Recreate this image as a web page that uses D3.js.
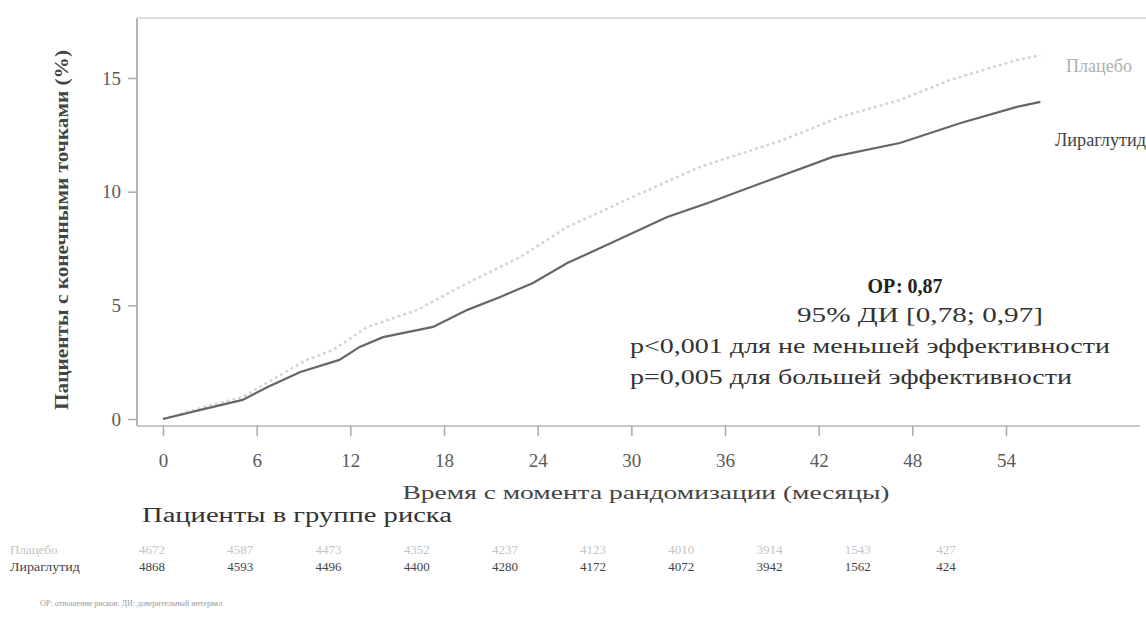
<!DOCTYPE html>
<html>
<head>
<meta charset="utf-8">
<script src="https://cdn.jsdelivr.net/npm/d3@7"></script>
<style>
  body { margin: 0; background: #fff; }
  svg { display: block; font-family: "Liberation Serif", "DejaVu Serif", serif; }
</style>
</head>
<body>
<svg id="chart" width="1146" height="636"></svg>
<script>
// data
let monthTicks = [0, 6, 12, 18, 24, 30, 36, 42, 48, 54];
let pctTicks = [0, 5, 10, 15];

let liraMonths = [0, 2.4, 5.1, 6.7, 8.8, 11.3, 12.6, 14.1, 17.3, 19.5, 21.6, 23.7, 25.9, 28.7, 32.3, 34.9, 38.7, 42.9, 47.2, 51.1, 54.7, 56.2];
let liraPct    = [0, 0.4, 0.84, 1.41, 2.07, 2.6, 3.17, 3.6, 4.05, 4.8, 5.37, 5.98, 6.86, 7.74, 8.89, 9.5, 10.47, 11.53, 12.14, 13.02, 13.73, 13.95];

let placMonths = [0, 2.4, 5.1, 9.2, 10.9, 13.1, 16.3, 19.5, 22.9, 25.9, 30.1, 34.4, 39.7, 43.4, 47.2, 50.4, 54.7, 56.2];
let placPct    = [0, 0.48, 0.97, 2.6, 3.04, 4.05, 4.8, 5.98, 7.13, 8.45, 9.77, 11.09, 12.27, 13.29, 14.03, 14.91, 15.79, 16.0];

let riskPlacebo = ["4672", "4587", "4473", "4352", "4237", "4123", "4010", "3914", "1543", "427"];
let riskLira    = ["4868", "4593", "4496", "4400", "4280", "4172", "4072", "3942", "1562", "424"];

let svg = d3.select("#chart");

let x = d3.scaleLinear().domain([0, 54]).range([163, 1006]);
let y = d3.scaleLinear().domain([0, 15]).range([419, 78]);
let xRisk = d3.scalePoint().domain(monthTicks).range([152, 946]);

//frame
let frame = svg.append('g').attr('stroke', '#b5b5b5').attr('stroke-width', 2);
frame.append('line').attr('x1', 137).attr('x2', 137).attr('y1', 18).attr('y2', 426);
frame.append('line').attr('x1', 137).attr('x2', 1146).attr('y1', 18).attr('y2', 18).attr('stroke', '#dcdcdc');
frame.append('line').attr('x1', 137).attr('x2', 1140).attr('y1', 426).attr('y2', 426).attr('stroke', '#c8c8c8');

//axes
let xAxis = svg.append('g')
  .attr('transform', 'translate(0,426)')
  .call(d3.axisBottom(x).tickValues(monthTicks).tickSize(10).tickPadding(18));
xAxis.select('.domain').remove();
xAxis.selectAll('line').attr('stroke', '#aaa').attr('stroke-width', 1.5);
xAxis.selectAll('text').attr('font-size', 19).attr('fill', '#5a5a5a').attr('font-family', 'Liberation Serif');

let yAxis = svg.append('g')
  .attr('transform', 'translate(137,0)')
  .call(d3.axisLeft(y).tickValues(pctTicks).tickSize(9).tickPadding(7));
yAxis.select('.domain').remove();
yAxis.selectAll('line').attr('stroke', '#aaa').attr('stroke-width', 1.5);
yAxis.selectAll('text').attr('font-size', 19).attr('fill', '#5a5a5a').attr('font-family', 'Liberation Serif');

//titles
svg.append('text')
  .attr('transform', 'translate(68,230) rotate(-90)')
  .attr('text-anchor', 'middle')
  .attr('font-size', 18)
  .attr('font-weight', 'bold')
  .attr('fill', '#444')
  .attr('textLength', 360).attr('lengthAdjust', 'spacingAndGlyphs')
  .text('Пациенты с конечными точками (%)');

svg.append('text')
  .attr('x', 646).attr('y', 499)
  .attr('text-anchor', 'middle')
  .attr('font-size', 19)
  .attr('fill', '#444')
  .attr('textLength', 487).attr('lengthAdjust', 'spacingAndGlyphs')
  .text('Время с момента рандомизации (месяцы)');

svg.append('text')
  .attr('x', 142).attr('y', 522)
  .attr('font-size', 20)
  .attr('fill', '#333')
  .attr('textLength', 310).attr('lengthAdjust', 'spacingAndGlyphs')
  .text('Пациенты в группе  риска');

//curves
let line = d3.line()
  .x(function(d) { return x(d[0]) })
  .y(function(d) { return y(d[1]) });

svg.append('path')
  .datum(d3.zip(placMonths, placPct))
  .attr('fill', 'none')
  .attr('stroke', '#d4d4d4')
  .attr('stroke-width', 2.5)
  .attr('stroke-dasharray', '3,3')
  .attr('d', line);

svg.append('path')
  .datum(d3.zip(liraMonths, liraPct))
  .attr('fill', 'none')
  .attr('stroke', '#666')
  .attr('stroke-width', 2.2)
  .attr('d', line);

//curve labels
svg.append('text')
  .attr('x', 1066).attr('y', 72)
  .attr('font-size', 18).attr('fill', '#b0b0b0')
  .attr('textLength', 66).attr('lengthAdjust', 'spacingAndGlyphs')
  .text('Плацебо');

svg.append('text')
  .attr('x', 1055).attr('y', 146)
  .attr('font-size', 18).attr('fill', '#444')
  .attr('textLength', 91).attr('lengthAdjust', 'spacingAndGlyphs')
  .text('Лираглутид');

//statistics
svg.append('text')
  .attr('x', 905).attr('y', 293)
  .attr('text-anchor', 'middle')
  .attr('font-size', 20).attr('font-weight', 'bold').attr('fill', '#222')
  .text('ОР: 0,87');

svg.append('text')
  .attr('x', 920).attr('y', 322)
  .attr('text-anchor', 'middle')
  .attr('font-size', 20).attr('fill', '#333')
  .attr('textLength', 246).attr('lengthAdjust', 'spacingAndGlyphs')
  .text('95% ДИ [0,78; 0,97]');

svg.append('text')
  .attr('x', 630).attr('y', 353)
  .attr('font-size', 20).attr('fill', '#333')
  .attr('textLength', 480).attr('lengthAdjust', 'spacingAndGlyphs')
  .text('p<0,001 для не меньшей эффективности');

svg.append('text')
  .attr('x', 630).attr('y', 384)
  .attr('font-size', 20).attr('fill', '#333')
  .attr('textLength', 442).attr('lengthAdjust', 'spacingAndGlyphs')
  .text('p=0,005 для большей эффективности');

//patients at risk
svg.append('text')
  .attr('x', 10).attr('y', 554)
  .attr('font-size', 13).attr('fill', '#c4c4c4')
  .text('Плацебо');

svg.append('text')
  .attr('x', 10).attr('y', 571)
  .attr('font-size', 13).attr('fill', '#444')
  .attr('textLength', 70).attr('lengthAdjust', 'spacingAndGlyphs')
  .text('Лираглутид');

svg.append('g').selectAll('text')
  .data(riskPlacebo)
  .enter()
  .append('text')
  .attr('x', function(d, i) { return xRisk(monthTicks[i]) })
  .attr('y', 554)
  .attr('text-anchor', 'middle')
  .attr('font-size', 13).attr('fill', '#c4c4c4')
  .text(function(d) { return d });

svg.append('g').selectAll('text')
  .data(riskLira)
  .enter()
  .append('text')
  .attr('x', function(d, i) { return xRisk(monthTicks[i]) })
  .attr('y', 571)
  .attr('text-anchor', 'middle')
  .attr('font-size', 13).attr('fill', '#444')
  .text(function(d) { return d });

//footnote
svg.append('text')
  .attr('x', 40).attr('y', 606)
  .attr('font-size', 8).attr('fill', '#999')
  .text('ОР: отношение рисков; ДИ: доверительный интервал');
</script>
</body>
</html>
